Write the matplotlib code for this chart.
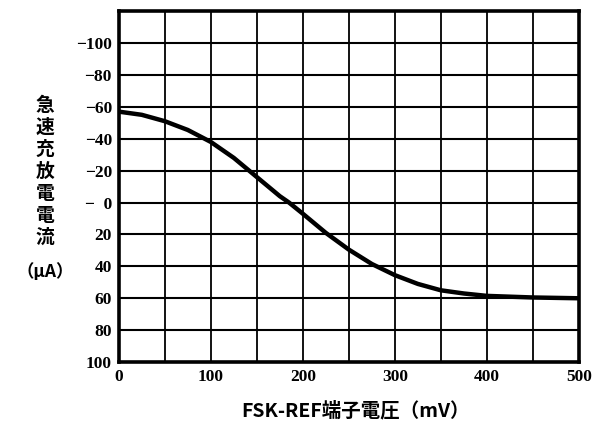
import matplotlib.pyplot as plt

# FSK-REF端子電圧 (mV) と急速充放電電流 (μA)
voltage = [0, 25, 50, 75, 100, 125, 150, 175, 185, 200, 225, 250, 275, 300, 325, 350, 375, 400, 450, 500]
current = [-57, -55, -51, -45.5, -38, -28, -16, -4, 0, 7, 19, 29.5, 38.5, 45.5, 51, 55, 57, 58.5, 59.5, 60]

x_ticks = [0, 100, 200, 300, 400, 500]
y_ticks = [-100, -80, -60, -40, -20, 0, 20, 40, 60, 80, 100]
y_labels = ["−100", "−80", "−60", "−40", "−20", "−  0", "20", "40", "60", "80", "100"]

num_font = dict(family="Liberation Serif", fontweight="bold", fontsize=12.5)
jp_font = ["Noto Sans CJK JP", "DejaVu Sans"]

fig = plt.figure(figsize=(6.03, 4.28), dpi=100)
ax = fig.add_axes([0.197, 0.154, 0.763, 0.820])

ax.plot(voltage, current, color="black", linewidth=3.2, solid_capstyle="butt")

ax.set_xlim(0, 500)
ax.set_ylim(100, -120)

for x in range(50, 500, 50):
    ax.axvline(x, color="black", linewidth=1.3)
for y in range(-100, 100, 20):
    ax.axhline(y, color="black", linewidth=1.5)

for side in ax.spines.values():
    side.set_linewidth(2.6)

ax.set_xticks(x_ticks)
ax.set_xticklabels([str(v) for v in x_ticks], **num_font)
ax.set_yticks(y_ticks)
ax.set_yticklabels(y_labels, **num_font)
ax.tick_params(length=0, pad=5)

# 縦書きの軸ラベル
fig.text(0.075, 0.60, "急\n速\n充\n放\n電\n電\n流", family=jp_font, fontsize=13.5,
         fontweight="bold", ha="center", va="center", linespacing=1.2)
fig.text(0.075, 0.365, "（μA）", family=jp_font, fontsize=12.5, fontweight="bold",
         ha="center", va="center")

fig.text(0.59, 0.04, "FSK-REF端子電圧（mV）", family=jp_font, fontsize=14,
         fontweight="bold", ha="center", va="center")

fig.savefig("out.png", dpi=100)
